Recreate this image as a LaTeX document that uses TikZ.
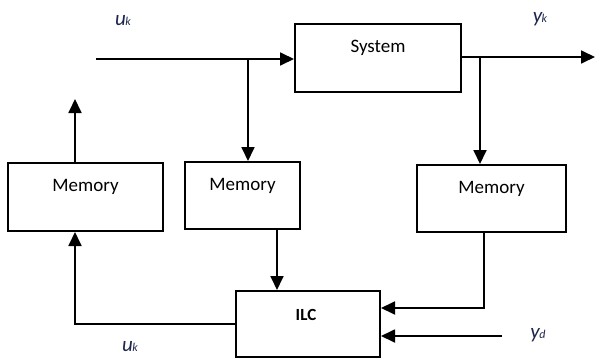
\documentclass[tikz,border=0pt]{standalone}
\usepackage{fontspec}
\setmainfont{Carlito}
\usetikzlibrary{arrows.meta}
\definecolor{sig}{RGB}{30,38,78}
\tikzset{
  blk/.style={draw, line width=2pt, rectangle, inner sep=0pt},
  flow/.style={line width=1.8pt, -{Triangle[length=14pt,width=13pt]}},
  boxtext/.style={font=\fontsize{19}{22}\selectfont, anchor=north},
  sigtext/.style={font=\fontsize{21}{24}\selectfont\itshape, text=sig, inner sep=1pt}
}
\newcommand{\sg}[2]{#1\kern-0.5pt{\fontsize{12}{14}\selectfont #2}}
\begin{document}
\begin{tikzpicture}[x=1pt,y=-1pt]
\useasboundingbox (0,0) rectangle (595,359);
% blocks
\node[blk, minimum width=166pt, minimum height=68pt] (sys) at (378,58) {};
\node[blk, minimum width=155pt, minimum height=68pt] (mem1) at (85.5,197) {};
\node[blk, minimum width=115pt, minimum height=67pt] (mem2) at (242.5,195.5) {};
\node[blk, minimum width=149pt, minimum height=67pt] (mem3) at (491.5,198.5) {};
\node[blk, minimum width=144pt, minimum height=66pt] (ilc) at (308,324) {};
% block texts
\node[boxtext] (tsys) at (378,37) {System};
\node[boxtext] (tm1) at (85.5,176) {Memory};
\node[boxtext] (tm2) at (242.5,175) {Memory};
\node[boxtext] (tm3) at (491.5,178) {Memory};
\node[boxtext, font=\fontsize{17}{20}\selectfont\bfseries] (tilc) at (306,306) {ILC};
% signal labels
\node[sigtext] (luk) at (123,21) {\sg{u}{k}};
\node[sigtext] (lyk) at (540,19) {\sg{y}{k}};
\node[sigtext] (luk2) at (130,347) {\sg{u}{k}};
\node[sigtext] (lyd) at (538,335) {\sg{y}{d}};
% connection points
\coordinate (uin) at (96,59);
\coordinate (j1) at (248,59);
\coordinate (yout) at (595,57);
\coordinate (j2) at (480,57);
\coordinate (up) at (75,99);
\coordinate (fb) at (75,324);
\coordinate (m2o) at (277,0);
\coordinate (m3o) at (484,308);
\coordinate (ydin) at (502,336);
% connectors
\draw[flow] (uin) -- (sys.west |- uin);
\draw[flow] (j1) -- (j1 |- mem2.north);
\draw[flow] (sys.east |- yout) -- (yout);
\draw[flow] (j2) -- (j2 |- mem3.north);
\draw[flow] (mem1.north -| up) -- (up);
\draw[flow] (ilc.west |- fb) -| (mem1.south -| fb);
\draw[flow] (mem2.south -| m2o) -- (ilc.north -| m2o);
\draw[flow] (mem3.south -| m3o) |- (ilc.east |- m3o);
\draw[flow] (ydin) -- (ilc.east |- ydin);
\end{tikzpicture}
\end{document}
